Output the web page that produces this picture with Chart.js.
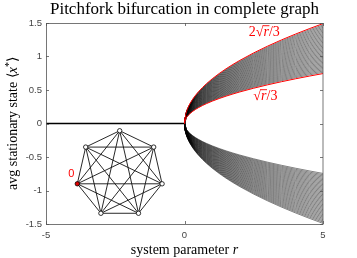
<!DOCTYPE html>
<html><head><meta charset="utf-8">
<script src="https://cdn.jsdelivr.net/npm/chart.js@4/dist/chart.umd.min.js"></script>
<style>html,body{margin:0;padding:0;background:#fff}#c{display:block}</style>
</head><body>
<canvas id="c" width="357" height="258"></canvas>
<script>
// ---- data ----
const titleText = "Pitchfork bifurcation in complete graph";
const xTicks = [-5, 0, 5];
const yTicks = [-1.5, -1, -0.5, 0, 0.5, 1, 1.5];
const zeroLineR = [-5, 0];
const zeroLineY = [0, 0];
const rValues = [0,0.0005,0.002,0.005,0.01,0.02,0.04,0.07,0.1,0.15,0.2,0.3,0.4,0.5,0.65,0.8,1,1.25,1.5,1.75,2,2.5,3,3.5,4,4.5,5];
const sqrtR = [0,0.02236,0.04472,0.07071,0.1,0.14142,0.2,0.26458,0.31623,0.38730,0.44721,0.54772,0.63246,0.70711,0.80623,0.89443,1,1.11803,1.22474,1.32288,1.41421,1.58114,1.73205,1.87083,2,2.12132,2.23607];
const branchCoeffs = [0.3333,0.3417,0.3500,0.3583,0.3667,0.3750,0.3833,0.3917,0.4000,0.4083,0.4167,0.4250,0.4333,0.4417,0.4500,0.4583,0.4667,0.4750,0.4833,0.4917,0.5000,0.5083,0.5167,0.5250,0.5333,0.5417,0.5500,0.5583,0.5667,0.5750,0.5833,0.5917,0.6000,0.6083,0.6167,0.6250,0.6333,0.6417,0.6500,0.6583,0.6667];
// inset graph (K7) node positions in data coordinates
const nodeX = [-2.34, -1.112, -0.809, -1.661, -3.018, -3.870, -3.567];
const nodeY = [-0.108, -0.352, -0.900, -1.340, -1.340, -0.900, -0.352];
const redNode = 5;
const nodeLabel = "0";
const nodeLabelPos = {x: -4.09, y: -0.76};
const upperLabelPos = {x: 2.88, y: 1.355};
const lowerLabelPos = {x: 2.92, y: 0.40};

// ---- datasets ----
const datasets = [];
datasets.push({data: zeroLineR.map((r,i)=>({x:r,y:zeroLineY[i]})), borderColor:'#000', borderWidth:1.3, order:5});
branchCoeffs.forEach((c, k) => {
  const isEdge = (k === 0 || k === branchCoeffs.length - 1);
  datasets.push({data: rValues.map((r,i)=>({x:r, y:c*sqrtR[i]})), borderColor: isEdge ? '#ff0000' : '#000', borderWidth: isEdge ? 1 : 0.5, order: isEdge ? 1 : 4});
  datasets.push({data: rValues.map((r,i)=>({x:r, y:-c*sqrtR[i]})), borderColor:'#000', borderWidth: 0.5, order: 4});
});
for (let i = 0; i < nodeX.length; i++) {
  for (let j = i + 1; j < nodeX.length; j++) {
    datasets.push({data:[{x:nodeX[i],y:nodeY[i]},{x:nodeX[j],y:nodeY[j]}], borderColor:'#111', borderWidth:0.9, order:3});
  }
}
datasets.push({type:'scatter', showLine:false, data: nodeX.map((x,i)=>({x, y:nodeY[i]})),
  pointRadius: 2.2, pointBackgroundColor: nodeX.map((_,i)=> i===redNode ? '#e00000' : '#fff'),
  pointBorderColor: '#000', pointBorderWidth: 0.8, order: 0});

const SERIF = '"Liberation Serif"';
const decor = {
  id: 'decor',
  afterDraw(chart) {
    const {ctx, chartArea: a, scales: {x, y}} = chart;
    ctx.save();
    ctx.strokeStyle = '#555'; ctx.lineWidth = 0.8;
    ctx.strokeRect(Math.round(a.left)+0.5, Math.round(a.top)+0.5, Math.round(a.right-a.left)-0.5, Math.round(a.bottom-a.top));
    ctx.beginPath();
    xTicks.forEach(t => { const px = Math.round(x.getPixelForValue(t))+0.5;
      ctx.moveTo(px, a.bottom); ctx.lineTo(px, a.bottom-3); ctx.moveTo(px, a.top); ctx.lineTo(px, a.top+3); });
    yTicks.forEach(t => { const py = Math.round(y.getPixelForValue(t))+0.5;
      ctx.moveTo(a.left, py); ctx.lineTo(a.left+3, py); ctx.moveTo(a.right, py); ctx.lineTo(a.right-3, py); });
    ctx.stroke();
    // title
    ctx.fillStyle = '#000';
    ctx.font = '17px ' + SERIF;
    ctx.textAlign = 'center'; ctx.textBaseline = 'middle';
    ctx.fillText(titleText, (a.left + a.right)/2, 10);
    // x axis title
    const fs = 14;
    const xt1 = 'system parameter ';
    ctx.font = fs + 'px ' + SERIF; const w1 = ctx.measureText(xt1).width;
    ctx.font = 'italic ' + fs + 'px ' + SERIF; const w2 = ctx.measureText('r').width;
    let sx = (a.left + a.right)/2 - (w1 + w2)/2;
    ctx.textAlign = 'left';
    ctx.font = fs + 'px ' + SERIF; ctx.fillText(xt1, sx, 250);
    ctx.font = 'italic ' + fs + 'px ' + SERIF; ctx.fillText('r', sx + w1, 250);
    // y axis title rotated
    ctx.save();
    ctx.translate(13, (a.top + a.bottom)/2);
    ctx.rotate(-Math.PI/2);
    const p1 = 'avg stationary state \u27E8', p2 = 'x', p3 = '*', p4 = '\u27E9';
    ctx.font = fs + 'px ' + SERIF; const q1 = ctx.measureText(p1).width, q4 = ctx.measureText(p4).width;
    ctx.font = 'italic ' + fs + 'px ' + SERIF; const q2 = ctx.measureText(p2).width;
    ctx.font = '10px ' + SERIF; const q3 = ctx.measureText(p3).width;
    let tx = -(q1+q2+q3+q4)/2;
    ctx.textAlign = 'left';
    ctx.font = fs + 'px ' + SERIF; ctx.fillText(p1, tx, 0); tx += q1;
    ctx.font = 'italic ' + fs + 'px ' + SERIF; ctx.fillText(p2, tx, 0); tx += q2;
    ctx.font = '10px ' + SERIF; ctx.fillText(p3, tx, -4); tx += q3;
    ctx.font = fs + 'px ' + SERIF; ctx.fillText(p4, tx, 0);
    ctx.restore();
    // red labels
    function sqrtLabel(prefix, cx, cy) {
      const f = '14px ' + SERIF, fi = 'italic 14px ' + SERIF;
      ctx.fillStyle = '#ff0000'; ctx.strokeStyle = '#ff0000';
      ctx.font = f;
      const wp = ctx.measureText(prefix).width, ws = ctx.measureText('\u221A').width, w3 = ctx.measureText('/3').width;
      ctx.font = fi; const wr = ctx.measureText('r').width;
      let lx = cx - (wp + ws + wr + w3)/2;
      ctx.textAlign = 'left'; ctx.textBaseline = 'middle';
      ctx.font = f; ctx.fillText(prefix + '\u221A', lx, cy); lx += wp + ws;
      ctx.beginPath(); ctx.lineWidth = 0.9; ctx.moveTo(lx - 0.5, cy - 7); ctx.lineTo(lx + wr + 0.5, cy - 7); ctx.stroke();
      ctx.font = fi; ctx.fillText('r', lx, cy); lx += wr;
      ctx.font = f; ctx.fillText('/3', lx, cy);
    }
    sqrtLabel('2', x.getPixelForValue(upperLabelPos.x), y.getPixelForValue(upperLabelPos.y));
    sqrtLabel('', x.getPixelForValue(lowerLabelPos.x), y.getPixelForValue(lowerLabelPos.y));
    ctx.fillStyle = '#ff0000'; ctx.font = '11px "Liberation Sans"'; ctx.textAlign = 'center';
    ctx.fillText(nodeLabel, x.getPixelForValue(nodeLabelPos.x), y.getPixelForValue(nodeLabelPos.y));
    ctx.restore();
  }
};

const fmt = v => String(v);
new Chart(document.getElementById('c'), {
  type: 'line',
  data: {datasets},
  options: {
    responsive: false, animation: false, devicePixelRatio: 1,
    layout: {padding: {top: 23, right: 34, left: 0, bottom: 0}},
    elements: {point: {radius: 0}, line: {tension: 0, fill: false}},
    plugins: {legend: {display: false}, tooltip: {enabled: false}, title: {display: false}},
    scales: {
      x: {type: 'linear', min: -5, max: 5,
        afterBuildTicks: s => { s.ticks = xTicks.map(v => ({value: v})); },
        afterFit: s => { s.height = 34; },
        grid: {display: false, drawTicks: false}, border: {display: false},
        ticks: {font: {family: 'Liberation Sans', size: 9.5}, color: '#444', padding: 6, maxRotation: 0, callback: fmt}},
      y: {type: 'linear', min: -1.5, max: 1.5,
        afterBuildTicks: s => { s.ticks = yTicks.map(v => ({value: v})); },
        afterFit: s => { s.width = 46; },
        grid: {display: false, drawTicks: false}, border: {display: false},
        ticks: {font: {family: 'Liberation Sans', size: 9.5}, color: '#444', padding: 4, callback: fmt}}
    }
  },
  plugins: [decor]
});
</script>
</body></html>
